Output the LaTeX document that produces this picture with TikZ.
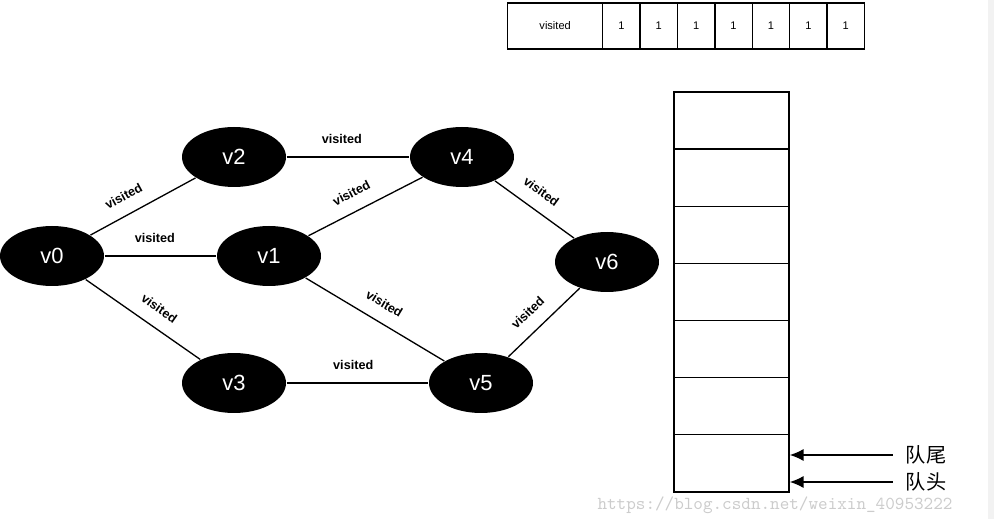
\documentclass[tikz,border=0pt]{standalone}
\usepackage{fontspec}
\setmainfont{Liberation Sans}
\newfontfamily\cjk{Noto Sans CJK SC}
\usetikzlibrary{shapes.geometric,arrows.meta}

\begin{document}
\begin{tikzpicture}[x=0.02cm,y=-0.02cm,line width=0.75pt,
    vertex/.style={ellipse,fill=black,text=white,minimum width=2.08cm,minimum height=1.2cm,inner sep=0pt,font=\fontsize{12.5}{14}\selectfont},
    lbl/.style={sloped,above=6.5pt,inner sep=1pt,font=\bfseries\fontsize{7.2}{8}\selectfont},
    cell/.style={draw,anchor=west,minimum width=0.748cm,minimum height=0.92cm,inner sep=0pt,font=\fontsize{6.3}{7}\selectfont},
    qcell/.style={draw,minimum width=2.3cm,minimum height=1.143cm,inner sep=0pt},
    qlabel/.style={inner sep=7pt,font=\cjk\fontsize{11.5}{13}\selectfont},
    qarrow/.style={line width=1pt,-{Latex[length=8pt,width=7pt]}}]
    \useasboundingbox (0,0) rectangle (994,519);
    \fill [black!5] (988,0) rectangle (994,519);

    % graph
    \node [vertex] (v0) at (52,256) {v0};
    \node [vertex] (v1) at (269,256) {v1};
    \node [vertex] (v2) at (234,157) {v2};
    \node [vertex] (v3) at (234,383) {v3};
    \node [vertex] (v4) at (462,157) {v4};
    \node [vertex] (v5) at (481,383) {v5};
    \node [vertex] (v6) at (607,262) {v6};

    \path (v0) edge node [lbl,pos=0.4] {visited} (v2);
    \path (v0) edge node [lbl,pos=0.45] {visited} (v1);
    \path (v0) edge node [lbl,pos=0.55] {visited} (v3);
    \path (v2) edge node [lbl,pos=0.45] {visited} (v4);
    \path (v1) edge node [lbl,pos=0.45] {visited} (v4);
    \path (v1) edge node [lbl] {visited} (v5);
    \path (v3) edge node [lbl,pos=0.47] {visited} (v5);
    \path (v4) edge node [lbl,pos=0.45] {visited} (v6);
    \path (v5) edge node [lbl,pos=0.45] {visited} (v6);

    % visited array
    \node [cell,minimum width=1.9cm] (vis) at (507,26) {visited};
    \foreach \i in {1,...,7}
        \node [cell] (c\i) at (602+37.4*\i-37.4,26) {1};

    % queue
    \foreach \i in {1,...,7}
        \node [qcell] (q\i) at (731.5,92+57.14*\i-28.57) {};

    \node [qlabel] (tail) at (926,455) {队尾};
    \node [qlabel] (head) at (926,482) {队头};
    \draw [qarrow] (tail) -- (tail -| q7.east);
    \draw [qarrow] (head) -- (head -| q7.east);

    \node [text=black!20,font=\ttfamily\fontsize{10.4}{12}\selectfont] (mark) at (775,505) {https://blog.csdn.net/weixin\_40953222};
\end{tikzpicture}
\end{document}
